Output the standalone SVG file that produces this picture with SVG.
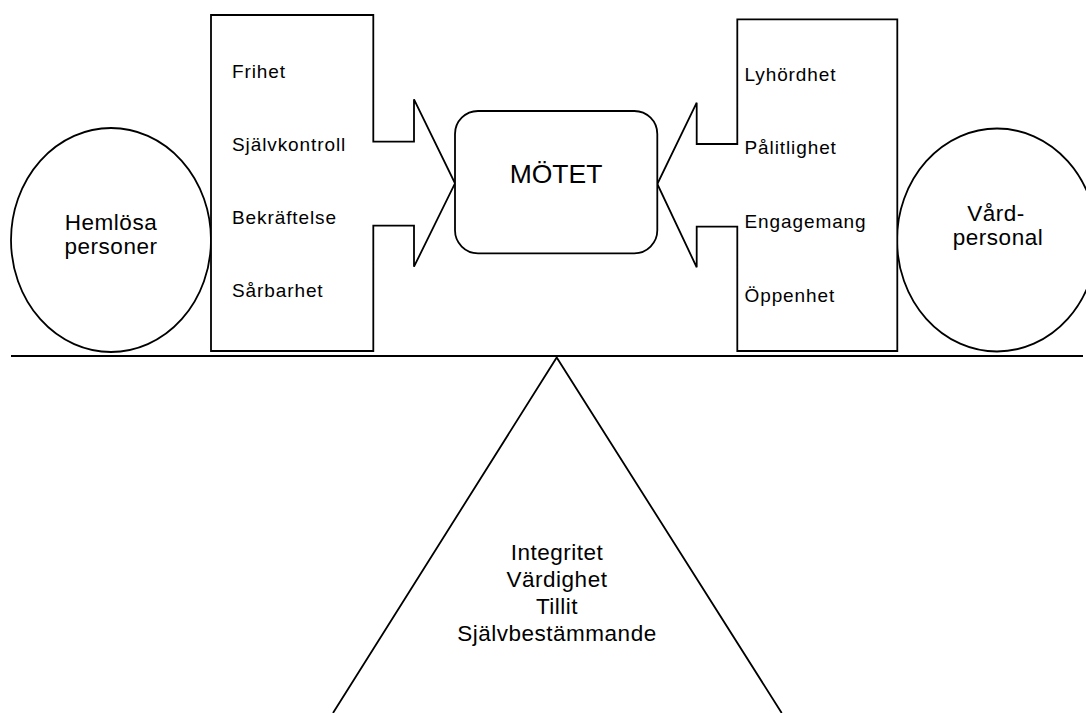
<svg xmlns="http://www.w3.org/2000/svg" width="1086" height="713" viewBox="0 0 1086 713">
<style>
.s{fill:#fff;stroke:#000;stroke-width:1.8;stroke-linejoin:miter}
.l{fill:none;stroke:#000;stroke-width:1.8}
text{font-family:"Liberation Sans",Arial,sans-serif;fill:#000}
.sm{font-size:19px;letter-spacing:0.9px}
.md{font-size:22.5px;letter-spacing:0.5px;text-anchor:middle}
.lg{font-size:26.5px;text-anchor:middle}
</style>
<rect width="1086" height="713" fill="#fff"/>
<g id="base">
<line class="l" x1="11" y1="356" x2="1083" y2="356"/>
</g>
<g id="triangle">
<polyline class="l" points="333,713 556.7,357.5 781.7,713"/>
<text class="md" x="557" y="559.5">Integritet</text>
<text class="md" x="557" y="586.5">Värdighet</text>
<text class="md" x="557" y="613.5">Tillit</text>
<text class="md" x="557" y="640.5">Självbestämmande</text>
</g>
<g id="hemlosa">
<ellipse class="s" cx="111" cy="240" rx="100" ry="112"/>
<text class="md" x="111" y="229.5">Hemlösa</text>
<text class="md" x="111" y="253.5">personer</text>
</g>
<g id="vardpersonal">
<ellipse class="s" cx="997" cy="240" rx="100" ry="111.5"/>
<text class="md" x="996" y="221">Vård-</text>
<text class="md" x="998" y="244.5">personal</text>
</g>
<g id="connectors">
<g id="left-arrow">
<path class="s" d="M211,15 H373.3 V141.7 H414 V99.3 L455,183.3 L414,266.7 V225.7 H373.3 V351 H211 Z"/>
<text class="sm" x="232" y="77.7">Frihet</text>
<text class="sm" x="232" y="151">Självkontroll</text>
<text class="sm" x="232" y="224">Bekräftelse</text>
<text class="sm" x="232" y="297">Sårbarhet</text>
</g>
<g id="right-arrow">
<path class="s" d="M897.3,19.3 H737.3 V144 H696.7 V102.7 L657.3,184 L696.7,267.3 V226.7 H737.3 V351 H897.3 Z"/>
<text class="sm" x="744.5" y="81">Lyhördhet</text>
<text class="sm" x="744.5" y="154">Pålitlighet</text>
<text class="sm" x="744.5" y="227.5">Engagemang</text>
<text class="sm" x="744.5" y="301.5">Öppenhet</text>
</g>
</g>
<g id="motet">
<rect class="s" x="455" y="111" width="202.3" height="142.3" rx="23" ry="23"/>
<text class="lg" x="556" y="183.3">MÖTET</text>
</g>
</svg>
